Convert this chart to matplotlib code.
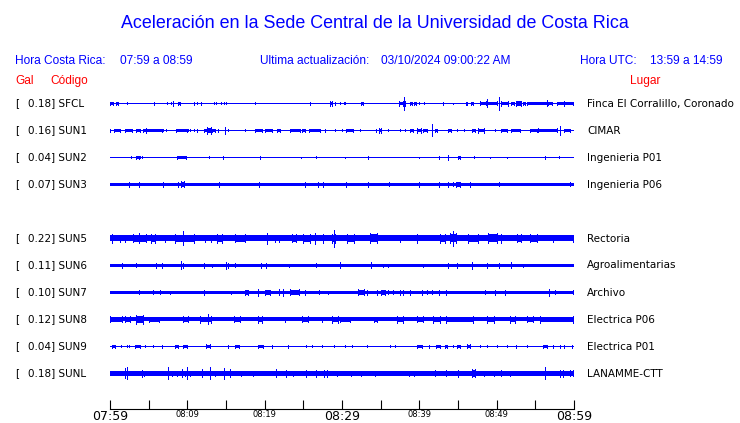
import matplotlib.pyplot as plt

# Stations
codes = ["SFCL", "SUN1", "SUN2", "SUN3", "SUN5", "SUN6", "SUN7", "SUN8", "SUN9", "SUNL"]
gal = [0.18, 0.16, 0.04, 0.07, 0.22, 0.11, 0.10, 0.12, 0.04, 0.18]
places = ["Finca El Corralillo, Coronado", "CIMAR", "Ingenieria P01", "Ingenieria P06",
          "Rectoria", "Agroalimentarias", "Archivo", "Electrica P06", "Electrica P01",
          "LANAMME-CTT"]
rows = [0, 1, 2, 3, 5, 6, 7, 8, 9, 10]   # SUN4 missing

# background noise thickness of each trace (px)
base_px = [1, 1, 1, 3, 6, 3, 3, 4, 1, 3.3]

# events: (start minute, end minute, half height px)
sfcl_ev = [(0.0, 0.43, 1.5), (0.78, 1.0, 1.3), (2.24, 2.24, 1), (5.73, 5.73, 1.3), (7.41, 7.41, 1),
           (7.89, 7.89, 1), (8.19, 8.19, 2.7), (8.79, 9.05, 1.5), (10.9, 10.9, 1.3), (11.2, 11.2, 1),
           (11.8, 11.8, 1.3), (13.4, 13.4, 1), (13.7, 13.7, 1), (14.4, 14.7, 1), (15.0, 15.0, 1),
           (18.8, 18.8, 1), (25.8, 25.8, 1.3), (28.4, 28.7, 2.3), (29.1, 29.1, 1.3), (29.7, 29.7, 1),
           (30.2, 30.2, 1), (30.4, 30.4, 1), (32.4, 32.7, 1.3), (37.4, 37.9, 2.3), (38.0, 38.0, 6.3),
           (38.2, 38.2, 2.7), (38.8, 39.0, 1.3), (39.3, 39.6, 1.3), (40.0, 40.0, 1), (40.6, 40.6, 1),
           (43.1, 43.1, 1.3), (44.4, 44.4, 0.7), (46.0, 46.1, 1.3), (46.7, 47.0, 1.3), (47.8, 48.6, 2),
           (48.7, 48.7, 4), (48.8, 50.0, 2), (50.3, 50.3, 6.3), (50.6, 51.5, 2.3), (51.8, 52.2, 1.3),
           (52.5, 53.1, 2.7), (53.4, 53.7, 1.3), (53.9, 56.5, 1.7), (56.5, 56.5, 3), (56.7, 57.1, 1.7),
           (57.8, 59.9, 1.7), (58.7, 58.7, 2.7)]
sun1_ev = [(0.0, 0.0, 1.3), (0.56, 1.29, 1.3), (2.0, 2.8, 1.3), (3.3, 3.9, 1.3), (4.3, 6.7, 1.7),
           (4.7, 4.7, 2.3), (6.9, 7.3, 1), (8.5, 9.9, 1.7), (10.1, 10.1, 1), (10.4, 10.4, 1),
           (10.8, 10.8, 1), (11.2, 11.2, 1.3), (12.1, 12.5, 1.3), (12.6, 13.1, 3.3), (13.2, 13.6, 1.3),
           (14.0, 14.0, 1.3), (14.9, 14.9, 3.7), (15.3, 15.3, 1), (17.4, 17.4, 1), (18.7, 19.6, 1.3),
           (20.0, 20.9, 1.3), (21.6, 22.0, 1.7), (23.3, 24.6, 1.7), (24.8, 25.2, 1.3), (25.7, 27.1, 1.7),
           (27.8, 27.8, 1.3), (29.1, 29.1, 1), (30.0, 30.0, 1), (30.5, 31.4, 1.3), (32.3, 32.3, 1),
           (34.4, 34.4, 1.3), (34.8, 35.1, 2.3), (36.0, 36.0, 1), (37.5, 37.5, 1), (38.1, 38.1, 1),
           (38.8, 39.2, 1.3), (39.7, 40.2, 2.3), (40.5, 41.0, 1.7), (41.7, 41.7, 6), (42.0, 42.3, 1.7),
           (43.7, 44.1, 1.3), (44.9, 44.9, 1), (45.8, 45.8, 1), (46.8, 47.2, 1.7), (47.6, 48.4, 2.3),
           (49.8, 49.8, 1), (50.6, 51.3, 1.3), (51.9, 53.0, 1.7), (54.3, 55.2, 1.3), (55.4, 57.8, 2),
           (58.2, 58.2, 4.7), (58.7, 59.5, 1.3)]
sun2_ev = [(2.7, 2.7, 1), (3.4, 3.7, 1.3), (3.9, 3.9, 1), (4.2, 4.2, 1), (8.7, 9.8, 1.7), (12.8, 12.8, 1),
           (14.6, 14.6, 1.3), (19.4, 19.4, 1.7), (24.7, 24.7, 0.7), (26.6, 26.6, 1), (30.4, 30.4, 0.7),
           (33.3, 33.3, 1.3), (39.9, 39.9, 0.7), (42.6, 42.6, 1.3), (43.7, 43.7, 2.3), (45.0, 45.3, 1.7),
           (47.1, 47.1, 1), (49.2, 49.2, 0.7), (51.3, 51.3, 0.7), (56.2, 56.2, 1.3), (58.0, 58.0, 1)]
sun3_ev = [(2.5, 2.5, 2.7), (3.7, 3.7, 2.3), (6.9, 6.9, 2.3), (8.8, 8.8, 2.7), (9.2, 9.6, 3),
           (14.1, 14.1, 2.3), (19.3, 19.3, 2.7), (25.2, 25.2, 2.3), (26.9, 26.9, 2.7), (27.5, 27.5, 2.3),
           (30.5, 30.5, 2.3), (33.3, 33.3, 2.7), (36.1, 36.1, 2), (39.9, 39.9, 2.3), (42.6, 42.6, 2.7),
           (43.7, 43.7, 2.7), (44.4, 44.4, 2), (44.8, 45.2, 2.7), (46.5, 46.5, 2.3), (50.3, 50.3, 2),
           (59.5, 59.5, 2)]
sun5_ev = [(0.3, 0.3, 4.7), (1.3, 1.9, 3.7), (3.0, 4.7, 4), (3.8, 3.8, 5), (5.3, 5.8, 4.3),
           (7.1, 7.1, 3.7), (8.4, 10.8, 4.3), (9.4, 9.4, 7), (12.3, 13.1, 3.7), (13.8, 14.5, 4.7),
           (16.2, 17.5, 4), (20.3, 20.3, 5.3), (21.3, 21.8, 3.7), (23.5, 24.1, 4), (25.0, 25.9, 4.7),
           (26.5, 26.5, 5.3), (27.6, 27.6, 4.3), (28.7, 29.1, 4.7), (29.0, 29.0, 8.3), (30.6, 31.5, 4.3),
           (33.6, 34.5, 5), (37.5, 37.5, 3.7), (39.7, 39.7, 4.3), (42.7, 43.3, 4.7), (44.0, 44.8, 5),
           (44.3, 44.3, 7.7), (46.3, 47.6, 4.7), (48.9, 50.0, 5), (50.6, 50.6, 4.3), (52.6, 53.2, 4),
           (54.3, 55.2, 4), (57.3, 59.9, 3.3)]
sun6_ev = [(1.5, 1.5, 2.3), (3.4, 3.4, 2), (6.0, 6.7, 2.3), (9.2, 9.2, 4), (9.5, 9.5, 2.3),
           (12.1, 12.1, 2.3), (13.2, 13.2, 1.7), (15.0, 15.0, 3.3), (15.3, 15.3, 2.3), (16.1, 16.1, 2),
           (19.5, 19.5, 2.3), (20.2, 20.2, 2.3), (23.1, 23.1, 1.7), (26.7, 26.7, 2), (29.7, 29.7, 3),
           (29.8, 29.8, 3), (33.7, 33.7, 3), (35.3, 36.0, 1.7), (40.5, 40.5, 1.7), (43.7, 43.7, 2.7),
           (44.9, 44.9, 2.3), (46.8, 46.8, 3.3), (48.7, 48.7, 2.3), (50.3, 50.3, 2.3), (51.8, 51.8, 3),
           (53.4, 53.4, 1.7)]
sun7_ev = [(3.7, 3.7, 2), (5.6, 5.6, 2), (6.5, 6.5, 2), (7.8, 7.8, 1.7), (12.1, 12.1, 2.3),
           (15.7, 15.7, 1.7), (17.5, 17.9, 2.7), (19.1, 19.1, 3.3), (20.0, 20.7, 2.7), (21.8, 21.8, 3),
           (22.4, 22.4, 3.3), (23.3, 24.4, 3), (25.2, 25.2, 2.3), (27.0, 27.0, 2), (28.2, 28.2, 1.7),
           (32.1, 32.8, 3), (33.2, 34.5, 2.3), (35.1, 35.6, 2.7), (36.0, 36.6, 2), (37.5, 37.9, 2.3),
           (38.8, 40.3, 2.3), (41.0, 41.6, 2), (42.5, 42.5, 2.3), (43.5, 43.5, 2.3), (48.5, 48.5, 2),
           (49.8, 51.1, 2.3), (56.8, 56.8, 3.7), (57.5, 59.9, 2)]
sun8_ev = [(0.0, 1.5, 3), (2.0, 2.6, 3), (3.4, 4.3, 4.3), (5.0, 6.3, 2.7), (9.5, 10.1, 3),
           (11.6, 13.1, 3.3), (12.7, 12.7, 5), (16.0, 16.8, 3), (19.2, 19.6, 3.7), (22.6, 22.6, 2.7),
           (24.8, 25.6, 3), (27.4, 27.4, 2.7), (28.7, 29.5, 3.3), (29.7, 31.0, 2.7), (34.1, 34.5, 2.7),
           (37.1, 37.9, 3.3), (39.7, 40.5, 3), (41.8, 42.7, 3.7), (43.5, 47.0, 3.3), (48.7, 49.6, 3.3),
           (51.7, 52.4, 3.7), (53.9, 54.7, 3), (55.6, 59.9, 3.7)]
sun9_ev = [(0.2, 0.6, 1.3), (1.4, 1.4, 1), (2.2, 2.4, 1), (3.2, 3.9, 1.7), (4.5, 4.5, 1), (5.6, 5.6, 1),
           (6.7, 6.7, 1.3), (8.4, 8.8, 1.7), (9.4, 10.0, 1.7), (12.4, 12.9, 2), (15.3, 15.3, 1.3),
           (16.1, 16.7, 1.7), (19.2, 19.8, 1.3), (20.9, 20.9, 1.3), (23.0, 23.0, 1.3), (25.4, 25.4, 1),
           (26.1, 26.1, 1), (27.4, 27.4, 1), (29.0, 29.0, 1), (30.4, 30.4, 1), (31.3, 31.3, 1),
           (33.2, 33.2, 1), (36.2, 36.2, 1), (36.9, 36.9, 1), (39.7, 40.3, 1.7), (41.2, 41.2, 1.3),
           (42.2, 42.7, 1.7), (43.3, 43.6, 1.7), (44.4, 44.4, 1), (44.9, 45.2, 1.7), (46.1, 46.5, 2),
           (47.8, 47.8, 1), (48.7, 48.7, 1), (50.0, 50.0, 1), (51.3, 51.3, 1), (52.5, 52.5, 1.3),
           (53.9, 53.9, 1), (56.0, 56.5, 1.7), (57.3, 57.3, 1.3), (58.2, 58.2, 1.3), (58.7, 58.7, 1.3),
           (59.7, 59.7, 1.3)]
sunl_ev = [(1.9, 1.9, 5), (2.2, 2.2, 6), (4.2, 4.2, 3.7), (4.4, 4.4, 2.3), (7.5, 7.5, 6), (8.0, 8.6, 2.3),
           (9.3, 9.3, 4), (9.7, 9.7, 2.7), (10.0, 10.0, 6), (10.3, 10.3, 2.3), (11.9, 11.9, 4),
           (12.9, 12.9, 6), (13.6, 13.6, 2.7), (14.7, 14.7, 5.7), (15.5, 15.5, 4), (17.0, 17.0, 2.3),
           (18.5, 18.5, 2.3), (19.6, 19.6, 2), (21.5, 21.5, 4), (22.8, 22.8, 3.3), (23.7, 23.7, 2.7),
           (25.4, 25.4, 3.7), (26.6, 26.6, 3.7), (27.7, 27.7, 3.3), (28.1, 28.1, 3.3), (29.3, 29.3, 2.3),
           (31.2, 32.5, 2.3), (34.3, 34.3, 2.3), (38.6, 38.6, 2.7), (39.3, 39.3, 2.3), (42.0, 43.5, 3),
           (45.0, 45.0, 3.3), (46.8, 47.2, 4), (48.3, 48.3, 2.3), (49.6, 49.6, 2.3), (50.6, 50.6, 3),
           (51.7, 51.7, 2.3), (56.3, 56.3, 6), (58.2, 58.6, 3.3), (59.5, 59.9, 3)]
events = [sfcl_ev, sun1_ev, sun2_ev, sun3_ev, sun5_ev, sun6_ev, sun7_ev, sun8_ev, sun9_ev, sunl_ev]

# time axis
tick_min = list(range(0, 61, 10))
tick_labels = ["07:59", "08:09", "08:19", "08:29", "08:39", "08:49", "08:59"]
big_labels = ["07:59", "08:29", "08:59"]

W, H = 740, 423
BLUE = "#0000ff"
RED = "#ff0000"

fig = plt.figure(figsize=(W / 100, H / 100), dpi=100)

# trace axes: x in minutes, y in pixels from top
ax = fig.add_axes([110 / W, 0, 464 / W, 1])
ax.set_xlim(0, 60)
ax.set_ylim(H, 0)
ax.axis("off")

for i in range(len(codes)):
    y = 103.5 + 27 * rows[i]
    ax.hlines(y, 0, 60, color=BLUE, linewidth=base_px[i] * 0.72, antialiased=False)
    for s, e, h in events[i]:
        if e > s:
            # bursts: body a bit lower than the peaks at its edges
            ax.fill_between([s, e], y - 0.8 * h, y + 0.8 * h, color=BLUE, linewidth=0,
                            antialiased=False)
            ax.vlines([s, e], y - h, y + h, color=BLUE, linewidth=0.72, antialiased=False)
        else:
            ax.vlines(s, y - h, y + h, color=BLUE, linewidth=0.72, antialiased=False)

    yf = 1 - y / H
    fig.text(15 / W, yf, "[", fontsize=7.5, va="center", ha="left")
    fig.text(28 / W, yf, f"{gal[i]:.2f}] {codes[i]}", fontsize=7.5, va="center", ha="left")
    fig.text(587 / W, yf, places[i], fontsize=7.5, va="center", ha="left")

# time axis
axt = fig.add_axes([110 / W, 1 - 409 / H, 464 / W, 0.0001])
axt.set_xlim(0, 60)
for sp in ["top", "left", "right"]:
    axt.spines[sp].set_visible(False)
axt.spines["bottom"].set_linewidth(0.8)
axt.set_yticks([])
axt.set_xticks(tick_min)
axt.set_xticks(range(5, 60, 10), minor=True)
axt.set_xticklabels(tick_labels)
axt.tick_params(axis="x", which="both", direction="in", length=6.5, width=0.8, pad=0.5)
for lab in axt.get_xticklabels():
    lab.set_fontsize(9 if lab.get_text() in big_labels else 6)

# header texts
hf = "Liberation Sans"
fig.text(375 / W, 1 - 23 / H, "Aceleración en la Sede Central de la Universidad de Costa Rica",
         fontsize=12.9, family=hf, color=BLUE, ha="center", va="center")
hy = 1 - 61 / H
fig.text(15 / W, hy, "Hora Costa Rica:", fontsize=8.6, family=hf, color=BLUE, va="center")
fig.text(120 / W, hy, "07:59 a 08:59", fontsize=8.6, family=hf, color=BLUE, va="center")
fig.text(260 / W, hy, "Ultima actualización:", fontsize=8.6, family=hf, color=BLUE, va="center")
fig.text(381 / W, hy, "03/10/2024 09:00:22 AM", fontsize=8.6, family=hf, color=BLUE, va="center")
fig.text(580 / W, hy, "Hora UTC:", fontsize=8.6, family=hf, color=BLUE, va="center")
fig.text(650 / W, hy, "13:59 a 14:59", fontsize=8.6, family=hf, color=BLUE, va="center")
ry = 1 - 81 / H
fig.text(15 / W, ry, "Gal", fontsize=8.6, family=hf, color=RED, va="center")
fig.text(50 / W, ry, "Código", fontsize=8.6, family=hf, color=RED, va="center")
fig.text(630 / W, ry, "Lugar", fontsize=8.6, family=hf, color=RED, va="center")

fig.savefig("out.png", dpi=100)
